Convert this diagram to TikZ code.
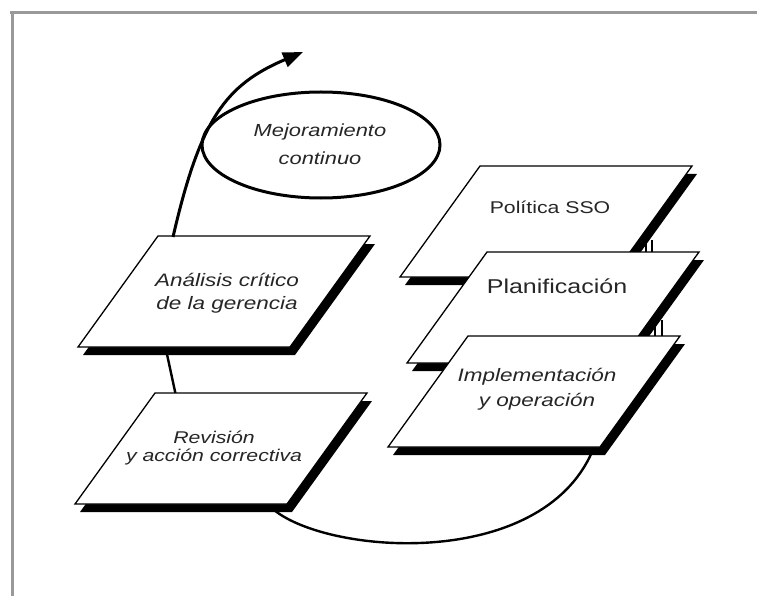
\documentclass[tikz,border=0pt]{standalone}
\usepackage{fontspec}
\usetikzlibrary{arrows.meta,shapes.geometric}
\newfontfamily\labfont[FakeStretch=1.25]{Liberation Sans}
\newcommand\mypgram[3]{%
  \coordinate (#1-tl) at (#2,#3);
  \coordinate (#1-tr) at (#2+212,#3);
  \coordinate (#1-br) at (#2+132,#3+111);
  \coordinate (#1-bl) at (#2-80,#3+111);
  \fill[black] ([shift={(5,8)}]#1-tl) -- ([shift={(5,8)}]#1-tr) -- ([shift={(5,8)}]#1-br) -- ([shift={(5,8)}]#1-bl) -- cycle;
  \filldraw[boxline] (#1-tl) -- (#1-tr) -- (#1-br) -- (#1-bl) -- cycle;
}
\begin{document}
\begin{tikzpicture}[x=1pt,y=-1pt,
  boxline/.style={fill=white,draw=black,line width=1.3pt,line join=miter},
  conn/.style={draw=black,line width=2.4pt},
  lab/.style={font=\labfont\fontsize{17}{20}\selectfont,text=black!85,align=center,inner sep=0pt},
  frameline/.style={draw=black!40,line width=3pt}]
\useasboundingbox (0,0) rectangle (757,596);
% frame
\coordinate (f1) at (10,12.5);
\coordinate (f2) at (757,12.5);
\coordinate (f3) at (12,11);
\coordinate (f4) at (12,596);
\draw[frameline] (f1) -- (f2);
\draw[frameline] (f3) -- (f4);
% connector end points (behind boxes)
\coordinate (a1) at (165,345);
\coordinate (r1) at (176,396);
\coordinate (rb) at (274,510);
\coordinate (ib) at (592,452);
\coordinate (c1a) at (646,242);
\coordinate (c1b) at (646,256);
\coordinate (c2a) at (652,240);
\coordinate (c2b) at (652,256);
\coordinate (c3a) at (655,322);
\coordinate (c3b) at (655,340);
\coordinate (c4a) at (662,320);
\coordinate (c4b) at (662,340);
\draw[conn] (a1) -- (r1);
\draw[conn] (rb) .. controls (330,555) and (540,570) .. (ib);
\draw[draw=black,line width=1.6pt] (c1a) -- (c1b);
\draw[draw=black,line width=1.6pt] (c2a) -- (c2b);
\draw[draw=black,line width=1.6pt] (c3a) -- (c3b);
\draw[draw=black,line width=1.6pt] (c4a) -- (c4b);
% boxes
\mypgram{ana}{158}{236}
\mypgram{rev}{155}{393}
\mypgram{pol}{480}{166}
\mypgram{pla}{487}{252}
\mypgram{imp}{468}{336}
% labels
\node[lab,font=\labfont\itshape\fontsize{18}{23}\selectfont] (ana) at (227,293) {Análisis crítico\\de la gerencia};
\node[lab,font=\labfont\itshape\fontsize{17}{18}\selectfont] (rev) at (214,448) {Revisión\\y acción correctiva};
\node[lab,font=\labfont\fontsize{17}{20}\selectfont] (pol) at (550,207) {Política SSO};
\node[lab,font=\labfont\fontsize{20}{22}\selectfont] (pla) at (557,286) {Planificación};
\node[lab,font=\labfont\itshape\fontsize{18}{25}\selectfont] (imp) at (537,389) {Implementación\\y operación};
% ellipse
\node[draw=black,line width=3pt,ellipse,minimum width=238pt,minimum height=106pt,inner sep=0pt] (ell) at (321,145) {};
\node[lab,font=\labfont\itshape\fontsize{17.5}{28}\selectfont] (mej) at (320,144) {Mejoramiento\\continuo};
% arrow
\coordinate (at) at (173,237);
\coordinate (tip) at (303,52);
\draw[draw=black,line width=3pt,-{Triangle[length=20pt,width=15pt]}] (at) .. controls (200,120) and (225,85) .. (tip);
\end{tikzpicture}
\end{document}
